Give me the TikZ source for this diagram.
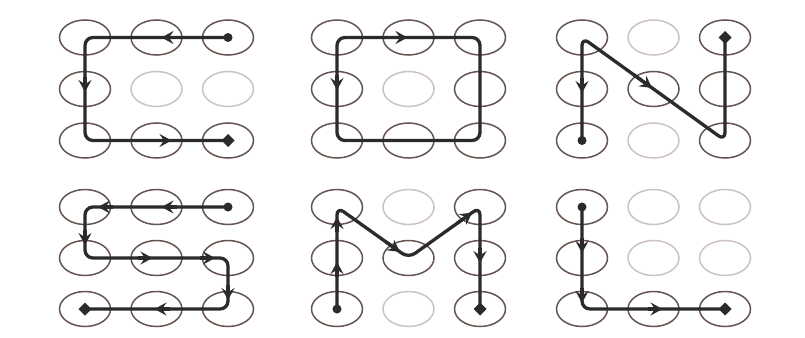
\documentclass[tikz,border=0pt]{standalone}
\usetikzlibrary{shapes.geometric,arrows.meta,calc}
\definecolor{ringdark}{HTML}{65544F}
\definecolor{ringlight}{HTML}{CDC3C0}
\definecolor{pathcol}{HTML}{2B2B2B}
\tikzset{
  ring/.style={ellipse,draw=ringdark,line width=1.5pt,minimum width=51pt,minimum height=35pt,inner sep=0pt},
  offring/.style={draw=ringlight},
  A22/.style={offring}, A23/.style={offring}, B22/.style={offring},
  C12/.style={offring}, C32/.style={offring}, E12/.style={offring},
  E32/.style={offring}, F12/.style={offring}, F13/.style={offring},
  F22/.style={offring}, F23/.style={offring},
  pat/.style={draw=pathcol,line width=3.3pt,rounded corners=8pt,line join=round},
  tip/.style={draw=pathcol,line width=3.3pt,-{Stealth[length=12pt,width=13pt,inset=4.5pt]}},
  enddot/.style={fill=pathcol},
}
\begin{document}
\begin{tikzpicture}[x=1pt,y=-1pt]
\fill[white] (0,0) rectangle (805,337);
\useasboundingbox (0,0) rectangle (805,337);
\foreach \g/\xo/\yo/\dy in {A/85/37.5/51.5, B/337/37.5/51.5, C/582/37.5/51.5, D/85/207/51, E/337/207/51, F/582/207/51}{
  \foreach \r in {1,2,3}{
    \foreach \c in {1,2,3}{
      \node[ring,\g\r\c/.try] (\g\r\c) at ({\xo+71.5*(\c-1)},{\yo+\dy*(\r-1)}) {};
    }
  }
}
% A
\draw[pat] (A13.center) -- (A11.center) -- (A31.center) -- (A33.center);
\draw[tip] ($(A12)+(20,0)$) -- ($(A12)+(5,0)$);
\draw[tip] ($(A21)+(0,-12)$) -- ($(A21)+(0,3)$);
\draw[tip] ($(A32)+(0,0)$) -- ($(A32)+(15,0)$);
\fill[enddot] (A13) circle[radius=4.5pt];
\fill[enddot] ($(A33)+(-6.5,0)$) -- ($(A33)+(0,-6.5)$) -- ($(A33)+(6.5,0)$) -- ($(A33)+(0,6.5)$) -- cycle;
% B
\draw[pat] (B11.center) -- (B13.center) -- (B33.center) -- (B31.center) -- cycle;
\draw[tip] ($(B12)+(-16,0)$) -- ($(B12)+(-1,0)$);
\draw[tip] ($(B21)+(0,-14)$) -- ($(B21)+(0,1)$);
% C
\draw[pat] (C31.center) -- (C11.center) -- (C33.center) -- (C13.center);
\draw[tip] ($(C21)+(0,-11)$) -- ($(C21)+(0,4)$);
\draw[tip] ($(C11)!0.36!(C33)$) -- ($(C11)!0.49!(C33)$);
\fill[enddot] (C31) circle[radius=4.5pt];
\fill[enddot] ($(C13)+(-6.5,0)$) -- ($(C13)+(0,-6.5)$) -- ($(C13)+(6.5,0)$) -- ($(C13)+(0,6.5)$) -- cycle;
% D
\draw[pat] (D13.center) -- (D11.center) -- (D21.center) -- (D23.center) -- (D33.center) -- (D31.center);
\draw[tip] ($(D11)+(28,0)$) -- ($(D11)+(13,0)$);
\draw[tip] ($(D12)+(20,0)$) -- ($(D12)+(5,0)$);
\draw[tip] ($(D21)+(0,-28)$) -- ($(D21)+(0,-13)$);
\draw[tip] ($(D22)+(-19,0)$) -- ($(D22)+(-4,0)$);
\draw[tip] ($(D23)+(-28,0)$) -- ($(D23)+(-13,0)$);
\draw[tip] ($(D33)+(0,-24)$) -- ($(D33)+(0,-9)$);
\draw[tip] ($(D32)+(13,0)$) -- ($(D32)+(-2,0)$);
\fill[enddot] (D13) circle[radius=4.5pt];
\fill[enddot] ($(D31)+(-6.5,0)$) -- ($(D31)+(0,-6.5)$) -- ($(D31)+(6.5,0)$) -- ($(D31)+(0,6.5)$) -- cycle;
% E
\draw[pat] (E31.center) -- (E11.center) -- (E22.center) -- (E13.center) -- (E33.center);
\draw[tip] ($(E21)+(0,19)$) -- ($(E21)+(0,4)$);
\draw[tip] ($(E11)+(0,25)$) -- ($(E11)+(0,10)$);
\draw[tip] ($(E11)!0.68!(E22)$) -- ($(E11)!0.88!(E22)$);
\draw[tip] ($(E22)!0.68!(E13)$) -- ($(E22)!0.89!(E13)$);
\draw[tip] ($(E23)+(0,-10)$) -- ($(E23)+(0,5)$);
\fill[enddot] (E31) circle[radius=4.5pt];
\fill[enddot] ($(E33)+(-6.5,0)$) -- ($(E33)+(0,-6.5)$) -- ($(E33)+(6.5,0)$) -- ($(E33)+(0,6.5)$) -- cycle;
% F
\draw[pat] (F11.center) -- (F31.center) -- (F33.center);
\draw[tip] ($(F21)+(0,-20)$) -- ($(F21)+(0,-5)$);
\draw[tip] ($(F31)+(0,-21)$) -- ($(F31)+(0,-6)$);
\draw[tip] ($(F32)+(-6,0)$) -- ($(F32)+(9,0)$);
\fill[enddot] (F11) circle[radius=4.5pt];
\fill[enddot] ($(F33)+(-6.5,0)$) -- ($(F33)+(0,-6.5)$) -- ($(F33)+(6.5,0)$) -- ($(F33)+(0,6.5)$) -- cycle;
\end{tikzpicture}
\end{document}
